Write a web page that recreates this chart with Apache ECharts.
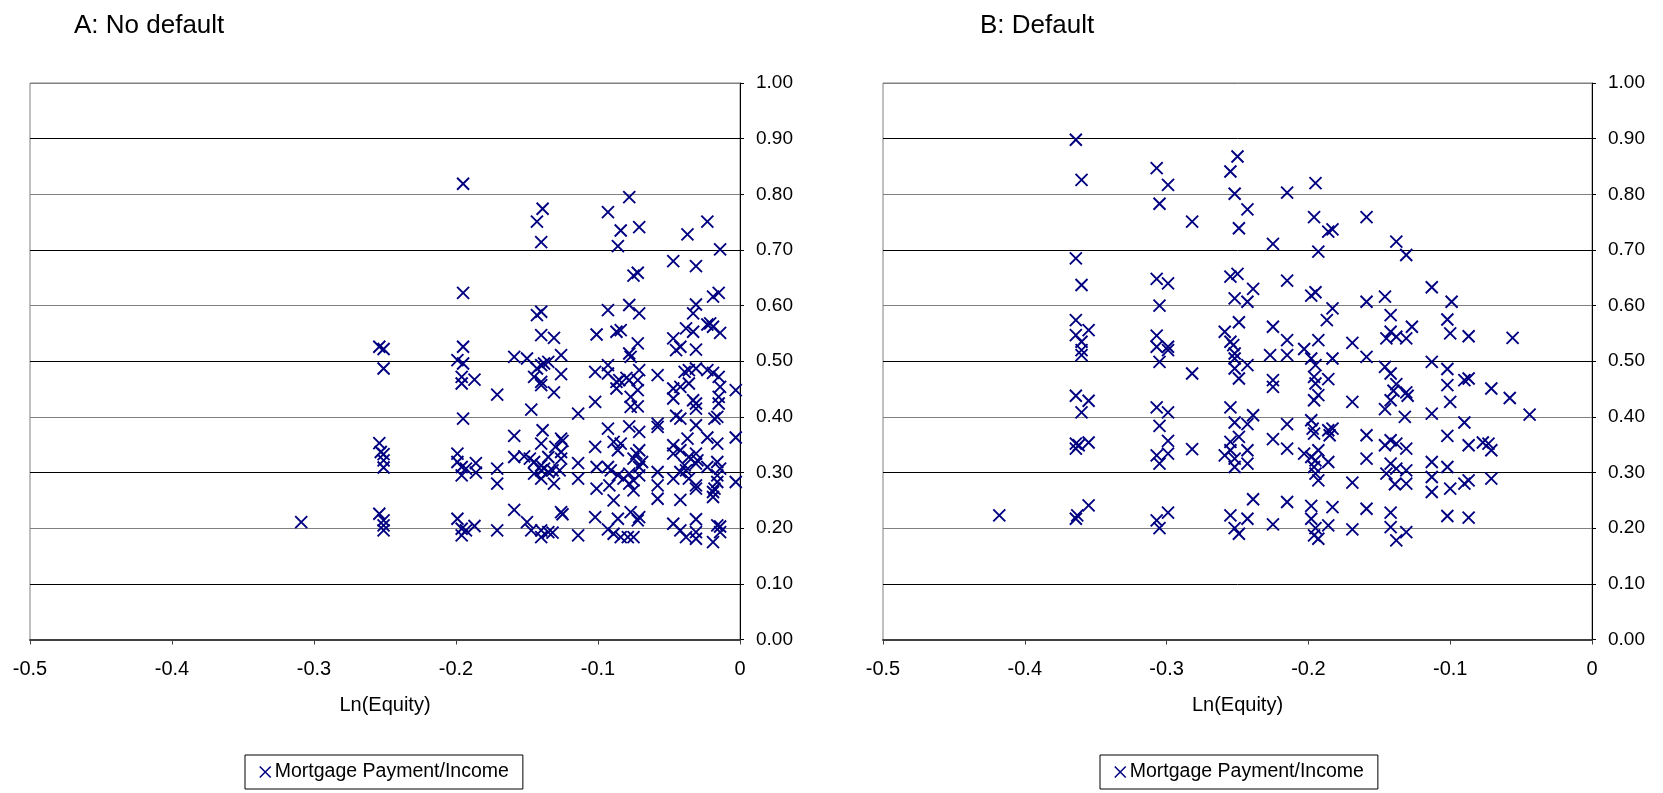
<!DOCTYPE html>
<html>
<head>
<meta charset="utf-8">
<script src="https://cdn.jsdelivr.net/npm/echarts@6/dist/echarts.min.js"></script>
<style>
html,body{margin:0;padding:0;background:#fff;}
#chart{width:1663px;height:793px;}
</style>
</head>
<body>
<div id="chart"></div>
<script>
// Panel titles, axis names, legend label
const panelTitles = ['A: No default', 'B: Default'];
const xAxisName = 'Ln(Equity)';
const seriesName = 'Mortgage Payment/Income';
const xTicks = [-0.5, -0.4, -0.3, -0.2, -0.1, 0];
const yTicks = [0, 0.1, 0.2, 0.3, 0.4, 0.5, 0.6, 0.7, 0.8, 0.9, 1.0];

// Panel A: No default  (x = Ln(Equity), y = Mortgage Payment/Income)
const aLnEquity = [
 -0.309,-0.254,-0.251,-0.251,-0.254,-0.253,-0.251,-0.251,-0.251,-0.254,-0.251,-0.251,-0.251,
 -0.195,-0.139,-0.143,-0.140,-0.195,-0.140,-0.143,-0.140,-0.131,-0.195,
 -0.199,-0.195,-0.196,-0.196,-0.187,-0.171,-0.159,-0.150,-0.143,-0.140,
 -0.138,-0.135,-0.126,-0.126,-0.145,-0.140,-0.140,-0.131,-0.147,-0.114,
 -0.195,-0.159,-0.139,-0.140,-0.126,-0.125,-0.130,-0.126,-0.126,-0.135,
 -0.159,-0.152,-0.148,-0.145,-0.140,-0.140,-0.138,-0.135,-0.132,-0.140,
 -0.131,-0.145,-0.127,-0.114,-0.114,-0.199,-0.199,-0.196,-0.196,-0.193,
 -0.186,-0.186,-0.171,-0.171,-0.159,-0.199,-0.196,-0.196,-0.193,-0.187,
 -0.171,-0.150,-0.147,-0.140,-0.140,-0.135,-0.132,-0.126,-0.125,-0.114,
 -0.078,-0.093,-0.084,-0.071,-0.086,-0.037,-0.023,-0.014,-0.047,-0.031,
 -0.075,-0.072,-0.019,-0.015,-0.031,-0.033,-0.093,-0.078,-0.071,-0.101,
 -0.087,-0.084,-0.072,-0.078,-0.077,-0.047,-0.045,-0.042,-0.038,-0.033,
 -0.031,-0.023,-0.019,-0.014,-0.102,-0.093,-0.093,-0.087,-0.085,-0.087,
 -0.080,-0.078,-0.071,-0.072,-0.072,-0.077,-0.077,-0.072,-0.058,-0.102,
 -0.047,-0.047,-0.042,-0.039,-0.036,-0.031,-0.036,-0.033,-0.031,-0.031,
 -0.023,-0.019,-0.015,-0.014,-0.015,-0.015,-0.003,-0.102,-0.101,-0.101,
 -0.102,-0.093,-0.078,-0.071,-0.058,-0.058,-0.045,-0.042,-0.031,-0.018,
 -0.016,-0.003,-0.023,-0.016,-0.037,-0.089,-0.086,-0.084,-0.071,-0.073,
 -0.075,-0.069,-0.093,-0.091,-0.086,-0.082,-0.078,-0.075,-0.078,-0.071,
 -0.071,-0.092,-0.089,-0.075,-0.058,-0.058,-0.058,-0.042,-0.047,-0.047,
 -0.042,-0.036,-0.031,-0.031,-0.030,-0.039,-0.038,-0.036,-0.031,-0.031,
 -0.047,-0.042,-0.023,-0.016,-0.014,-0.016,-0.016,-0.018,-0.019,-0.003,
 -0.093,-0.089,-0.086,-0.084,-0.079,-0.077,-0.075,-0.072,-0.071,-0.047,
 -0.042,-0.038,-0.031,-0.031,-0.031,-0.016,-0.014,-0.019,-0.021,-0.019,
 -0.014
];
const aPayIncome = [
 0.211,0.526,0.522,0.487,0.353,0.337,0.333,0.322,0.309,0.226,0.214,0.205,0.196,
 0.819,0.774,0.751,0.714,0.623,0.589,0.583,0.547,0.542,0.526,
 0.502,0.496,0.472,0.460,0.467,0.440,0.508,0.505,0.487,0.493,
 0.496,0.499,0.511,0.477,0.472,0.463,0.457,0.444,0.413,0.406,
 0.397,0.366,0.376,0.352,0.361,0.357,0.346,0.337,0.325,0.328,
 0.328,0.329,0.325,0.319,0.313,0.304,0.307,0.301,0.304,0.289,
 0.280,0.298,0.304,0.317,0.289,0.334,0.319,0.310,0.295,0.307,
 0.317,0.300,0.307,0.280,0.233,0.217,0.199,0.187,0.196,0.204,
 0.196,0.211,0.196,0.196,0.184,0.193,0.192,0.229,0.225,0.187,
 0.795,0.768,0.735,0.741,0.707,0.728,0.751,0.701,0.680,0.671,
 0.654,0.659,0.616,0.623,0.602,0.586,0.592,0.601,0.586,0.548,
 0.553,0.556,0.532,0.514,0.508,0.541,0.520,0.526,0.559,0.553,
 0.521,0.566,0.562,0.551,0.481,0.493,0.478,0.463,0.466,0.451,
 0.470,0.466,0.484,0.466,0.448,0.436,0.418,0.419,0.475,0.427,
 0.451,0.433,0.454,0.481,0.484,0.487,0.460,0.430,0.424,0.415,
 0.484,0.479,0.472,0.454,0.436,0.424,0.448,0.346,0.310,0.271,
 0.220,0.379,0.383,0.373,0.388,0.382,0.402,0.397,0.385,0.397,
 0.400,0.363,0.363,0.352,0.361,0.355,0.340,0.352,0.340,0.334,
 0.325,0.319,0.310,0.304,0.295,0.289,0.298,0.286,0.280,0.295,
 0.310,0.277,0.250,0.268,0.301,0.277,0.253,0.251,0.349,0.334,
 0.340,0.328,0.334,0.316,0.322,0.313,0.304,0.289,0.277,0.271,
 0.289,0.301,0.310,0.319,0.307,0.295,0.283,0.271,0.256,0.283,
 0.198,0.190,0.217,0.184,0.184,0.229,0.184,0.214,0.220,0.208,
 0.196,0.184,0.216,0.193,0.181,0.205,0.193,0.175,0.568,0.265,
 0.203
];

// Panel B: Default
const bLnEquity = [
 -0.364,-0.360,-0.364,-0.360,-0.364,-0.364,-0.355,-0.360,-0.360,-0.360,-0.364,
 -0.355,-0.360,-0.364,-0.362,-0.364,-0.355,-0.418,-0.363,-0.364,-0.355,
 -0.307,-0.299,-0.305,-0.282,-0.250,-0.255,-0.252,-0.243,-0.249,-0.225,
 -0.215,-0.195,-0.196,-0.193,-0.307,-0.299,-0.305,-0.255,-0.250,-0.252,
 -0.239,-0.243,-0.215,-0.198,-0.195,-0.307,-0.307,-0.299,-0.299,-0.305,
 -0.282,-0.259,-0.255,-0.253,-0.249,-0.252,-0.252,-0.243,-0.252,-0.249,
 -0.225,-0.215,-0.227,-0.215,-0.225,-0.225,-0.203,-0.198,-0.195,-0.196,
 -0.195,-0.193,-0.196,-0.193,-0.307,-0.299,-0.305,-0.299,-0.299,-0.282,
 -0.307,-0.305,-0.255,-0.252,-0.239,-0.243,-0.249,-0.255,-0.255,-0.259,
 -0.252,-0.252,-0.243,-0.243,-0.225,-0.215,-0.215,-0.203,-0.198,-0.197,
 -0.196,-0.198,-0.195,-0.196,-0.195,-0.193,-0.193,-0.307,-0.305,-0.299,
 -0.255,-0.252,-0.249,-0.243,-0.239,-0.225,-0.215,-0.198,-0.198,-0.195,
 -0.196,-0.193,
 -0.159,-0.186,-0.183,-0.138,-0.131,-0.113,-0.099,-0.159,-0.146,-0.183,
 -0.187,-0.142,-0.127,-0.102,-0.100,-0.087,-0.142,-0.145,-0.138,-0.131,
 -0.169,-0.159,-0.183,-0.113,-0.146,-0.142,-0.186,-0.138,-0.140,-0.131,
 -0.130,-0.102,-0.102,-0.090,-0.087,-0.071,-0.058,-0.169,-0.146,-0.142,
 -0.132,-0.113,-0.100,-0.090,-0.186,-0.183,-0.185,-0.159,-0.159,-0.146,
 -0.142,-0.138,-0.131,-0.142,-0.145,-0.138,-0.131,-0.139,-0.131,-0.169,
 -0.113,-0.113,-0.113,-0.102,-0.102,-0.100,-0.087,-0.090,-0.087,-0.073,
 -0.071,-0.071,-0.186,-0.183,-0.186,-0.169,-0.159,-0.142,-0.142,-0.138,
 -0.131,-0.102,-0.087,-0.056,-0.044,-0.077
];
const bPayIncome = [
 0.898,0.826,0.685,0.637,0.574,0.547,0.556,0.535,0.520,0.511,0.438,
 0.429,0.408,0.352,0.349,0.343,0.354,0.223,0.223,0.217,0.241,
 0.847,0.817,0.783,0.751,0.868,0.841,0.801,0.773,0.739,0.711,
 0.803,0.820,0.759,0.697,0.648,0.640,0.600,0.652,0.657,0.613,
 0.630,0.607,0.645,0.618,0.624,0.546,0.526,0.526,0.520,0.499,
 0.478,0.553,0.535,0.529,0.570,0.514,0.505,0.493,0.487,0.469,
 0.562,0.538,0.511,0.511,0.466,0.454,0.522,0.505,0.493,0.472,
 0.460,0.439,0.430,0.538,0.417,0.408,0.384,0.357,0.334,0.342,
 0.331,0.316,0.417,0.390,0.403,0.387,0.364,0.355,0.340,0.331,
 0.325,0.310,0.340,0.316,0.360,0.387,0.343,0.334,0.394,0.379,
 0.370,0.328,0.322,0.310,0.298,0.286,0.340,0.214,0.200,0.228,
 0.223,0.200,0.190,0.217,0.252,0.207,0.247,0.240,0.217,0.200,
 0.187,0.181,
 0.759,0.733,0.737,0.715,0.691,0.633,0.607,0.607,0.616,0.595,
 0.574,0.583,0.562,0.575,0.550,0.545,0.553,0.541,0.544,0.541,
 0.533,0.508,0.505,0.499,0.490,0.478,0.468,0.459,0.447,0.444,
 0.438,0.486,0.457,0.466,0.469,0.451,0.434,0.427,0.414,0.430,
 0.400,0.406,0.427,0.390,0.376,0.379,0.367,0.367,0.325,0.349,
 0.358,0.352,0.343,0.316,0.298,0.307,0.304,0.279,0.280,0.282,
 0.319,0.292,0.265,0.366,0.310,0.271,0.349,0.280,0.286,0.352,
 0.340,0.289,0.319,0.238,0.205,0.198,0.235,0.228,0.202,0.178,
 0.193,0.222,0.219,0.542,0.404,0.354
];

const NAVY = '#000080';
const XMARK = 'path://M0,0L10,10M10,0L0,10';
const FONT = '"Liberation Sans", Arial, sans-serif';

function zip(xs, ys) { return xs.map((x, i) => [x, ys[i]]); }

const gridA = {left: 30, top: 83, width: 710, height: 556.5};
const gridB = {left: 883, top: 83, width: 709, height: 556.5};

function xAxisFor(gi) {
  return {
    type: 'value', gridIndex: gi, min: xTicks[0], max: xTicks[xTicks.length - 1], interval: 0.1,
    name: xAxisName, nameLocation: 'middle', nameGap: 56,
    nameTextStyle: {fontFamily: FONT, fontSize: 20, color: '#000'},
    axisLine: {show: true, onZero: false, lineStyle: {color: '#404040', width: 2}},
    axisTick: {show: true, inside: false, length: 5, lineStyle: {color: '#404040', width: 1}},
    axisLabel: {show: true, margin: 20, fontFamily: FONT, fontSize: 20, color: '#000',
      formatter: v => (Math.abs(v) < 1e-9 ? '0' : String(+v.toFixed(1)))},
    splitLine: {show: false}
  };
}
function yAxisFor(gi) {
  return {
    type: 'value', gridIndex: gi, position: 'right', min: yTicks[0], max: yTicks[yTicks.length - 1], interval: 0.1,
    axisLine: {show: true, lineStyle: {color: '#000', width: 1}},
    axisTick: {show: true, inside: false, length: 4, lineStyle: {color: '#000'}},
    axisLabel: {show: true, margin: 16, fontFamily: FONT, fontSize: 19, color: '#000',
      formatter: v => v.toFixed(2)},
    splitLine: {show: true, lineStyle: {color: ['#808080', '#000000'], width: 1}}
  };
}
function seriesFor(gi, data) {
  return {
    name: seriesName, type: 'scatter', xAxisIndex: gi, yAxisIndex: gi,
    symbol: XMARK, symbolSize: 12, data: data,
    itemStyle: {color: NAVY, borderColor: NAVY, borderWidth: 1.9, opacity: 1},
    emphasis: {disabled: true}, silent: true
  };
}
function legendFor(left) {
  return {
    left: left, top: 755, orient: 'horizontal',
    data: [{name: seriesName, icon: XMARK}],
    itemWidth: 11, itemHeight: 11, itemGap: 5,
    borderColor: '#000', borderWidth: 1, padding: [7, 14],
    textStyle: {fontFamily: FONT, fontSize: 19.5, color: '#000', padding: [0, 0, 0, -1]},
    itemStyle: {color: NAVY, borderColor: NAVY, borderWidth: 1.5},
    selectedMode: false
  };
}

const chart = echarts.init(document.getElementById('chart'), null, {renderer: 'canvas'});
chart.setOption({
  animation: false,
  backgroundColor: '#fff',
  title: [
    {text: panelTitles[0], left: 69, top: 8, textStyle: {fontFamily: FONT, fontSize: 26, fontWeight: 'normal', color: '#000'}},
    {text: panelTitles[1], left: 975, top: 8, textStyle: {fontFamily: FONT, fontSize: 26, fontWeight: 'normal', color: '#000'}}
  ],
  grid: [
    Object.assign({show: true, borderColor: '#808080', borderWidth: 1, containLabel: false, outerBoundsMode: 'none'}, gridA),
    Object.assign({show: true, borderColor: '#808080', borderWidth: 1, containLabel: false, outerBoundsMode: 'none'}, gridB)
  ],
  xAxis: [xAxisFor(0), xAxisFor(1)],
  yAxis: [yAxisFor(0), yAxisFor(1)],
  legend: [legendFor(245), legendFor(1100)],
  series: [seriesFor(0, zip(aLnEquity, aPayIncome)), seriesFor(1, zip(bLnEquity, bPayIncome))]
});
</script>
</body>
</html>
